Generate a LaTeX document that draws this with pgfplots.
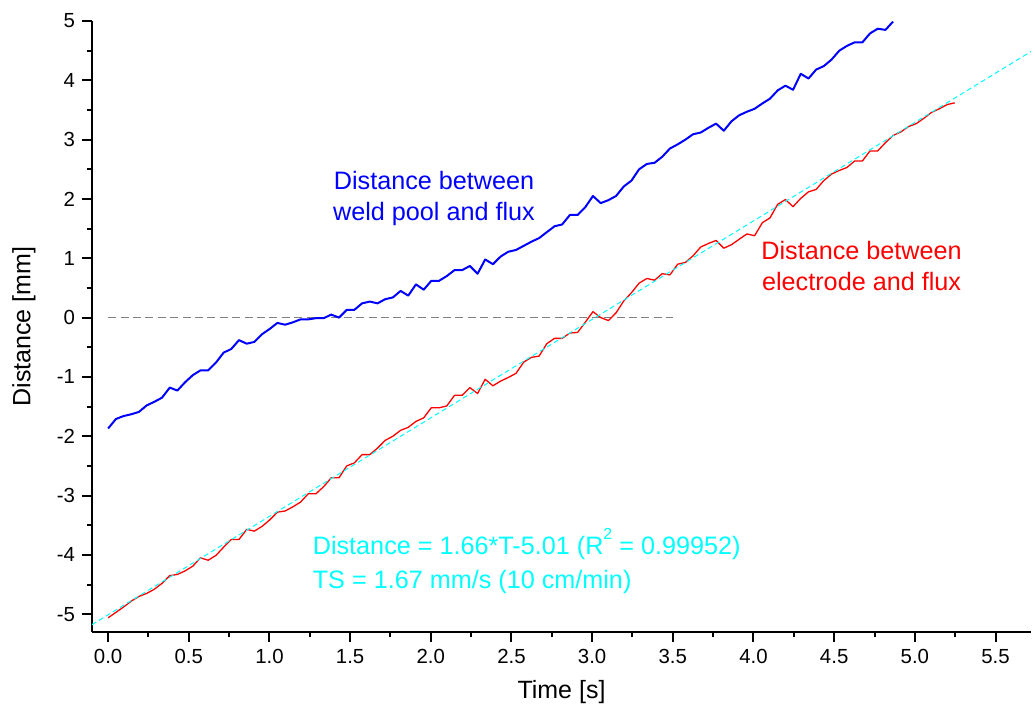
\documentclass[border=0pt]{standalone}
\usepackage{fontspec}
\setmainfont{Liberation Sans}
\usepackage{pgfplots}
\pgfplotsset{compat=1.18}
\definecolor{fitcyan}{RGB}{0,255,255}
\definecolor{zerogray}{RGB}{128,128,128}
\begin{document}
\begin{tikzpicture}
\begin{axis}[
  at={(0,0)}, anchor=south west, scale only axis,
  width=469.5pt, height=305.5pt,
  xmin=-0.1, xmax=5.72, ymin=-5.3, ymax=5,
  axis x line=bottom, axis y line=left,
  axis line style={-, line width=1pt},
  tick align=outside, major tick length=5pt, minor tick length=2.7pt,
  every tick/.style={black, line width=1pt},
  xtick={0,0.5,1,1.5,2,2.5,3,3.5,4,4.5,5,5.5}, minor x tick num=1,
  ytick={-5,-4,-3,-2,-1,0,1,2,3,4,5}, minor y tick num=1,
  ticklabel style={font=\fontsize{10.2}{12}\selectfont},
  /pgf/number format/assume math mode=true,
  xticklabel style={/pgf/number format/.cd, fixed, fixed zerofill, precision=1},
  xlabel={Time [s]}, ylabel={Distance [mm]},
  label style={font=\fontsize{12.5}{15}\selectfont},
  xlabel style={at={(axis description cs:0.5,-0.0982)}, anchor=center},
  ylabel style={at={(axis description cs:-0.0724,0.5)}, anchor=center},
]
\addplot[zerogray, line width=0.75pt, dash pattern=on 4pt off 2.2pt] coordinates {(0,0) (3.5,0)};
\addplot[blue, line width=1pt, line join=round] coordinates {
(0.000,-1.87) (0.048,-1.71) (0.095,-1.66) (0.143,-1.63) (0.191,-1.59) (0.239,-1.48) (0.286,-1.42) (0.334,-1.35) (0.382,-1.18) (0.429,-1.23)
(0.477,-1.09) (0.525,-0.97) (0.572,-0.89) (0.620,-0.89) (0.668,-0.76) (0.716,-0.59) (0.763,-0.53) (0.811,-0.38) (0.859,-0.44) (0.906,-0.41)
(0.954,-0.28) (1.002,-0.19) (1.049,-0.09) (1.097,-0.12) (1.145,-0.08) (1.193,-0.03) (1.240,-0.03) (1.288,-0.01) (1.336,-0.01) (1.383,0.05)
(1.431,0.00) (1.479,0.13) (1.526,0.13) (1.574,0.24) (1.622,0.27) (1.670,0.24) (1.717,0.31) (1.765,0.34) (1.813,0.45) (1.860,0.37)
(1.908,0.56) (1.956,0.47) (2.003,0.62) (2.051,0.62) (2.099,0.70) (2.147,0.80) (2.194,0.80) (2.242,0.87) (2.290,0.74) (2.337,0.98)
(2.385,0.90) (2.433,1.03) (2.480,1.11) (2.528,1.14) (2.576,1.21) (2.624,1.28) (2.671,1.34) (2.719,1.44) (2.767,1.54) (2.814,1.57)
(2.862,1.73) (2.910,1.73) (2.957,1.86) (3.005,2.05) (3.053,1.93) (3.101,1.98) (3.148,2.05) (3.196,2.21) (3.244,2.31) (3.291,2.50)
(3.339,2.59) (3.387,2.61) (3.434,2.71) (3.482,2.85) (3.530,2.92) (3.578,3.00) (3.625,3.09) (3.673,3.12) (3.721,3.20) (3.768,3.27)
(3.816,3.15) (3.864,3.31) (3.911,3.41) (3.959,3.47) (4.007,3.52) (4.055,3.61) (4.102,3.69) (4.150,3.83) (4.198,3.91) (4.245,3.84)
(4.293,4.11) (4.341,4.03) (4.388,4.18) (4.436,4.24) (4.484,4.35) (4.532,4.50) (4.579,4.58) (4.627,4.64) (4.675,4.64) (4.722,4.79)
(4.770,4.87) (4.818,4.85) (4.865,4.99)
};
\addplot[red, line width=0.65pt, line join=round] coordinates {
(0.000,-5.06) (0.048,-4.97) (0.095,-4.88) (0.143,-4.78) (0.191,-4.70) (0.239,-4.65) (0.286,-4.58) (0.334,-4.48) (0.382,-4.35) (0.429,-4.33)
(0.477,-4.27) (0.525,-4.19) (0.572,-4.05) (0.620,-4.09) (0.668,-4.01) (0.716,-3.87) (0.763,-3.74) (0.811,-3.74) (0.859,-3.57) (0.906,-3.60)
(0.954,-3.52) (1.002,-3.41) (1.049,-3.28) (1.097,-3.26) (1.145,-3.19) (1.193,-3.11) (1.240,-2.97) (1.288,-2.97) (1.336,-2.85) (1.383,-2.70)
(1.431,-2.70) (1.479,-2.50) (1.526,-2.45) (1.574,-2.31) (1.622,-2.31) (1.670,-2.20) (1.717,-2.07) (1.765,-2.00) (1.813,-1.90) (1.860,-1.85)
(1.908,-1.75) (1.956,-1.69) (2.003,-1.52) (2.051,-1.52) (2.099,-1.49) (2.147,-1.31) (2.194,-1.31) (2.242,-1.18) (2.290,-1.28) (2.337,-1.04)
(2.385,-1.15) (2.433,-1.07) (2.480,-1.01) (2.528,-0.94) (2.576,-0.75) (2.624,-0.67) (2.671,-0.65) (2.719,-0.44) (2.767,-0.35) (2.814,-0.35)
(2.862,-0.26) (2.910,-0.25) (2.957,-0.08) (3.005,0.10) (3.053,0.00) (3.101,-0.05) (3.148,0.08) (3.196,0.28) (3.244,0.42) (3.291,0.58)
(3.339,0.66) (3.387,0.63) (3.434,0.74) (3.482,0.72) (3.530,0.90) (3.578,0.93) (3.625,1.04) (3.673,1.19) (3.721,1.25) (3.768,1.30)
(3.816,1.17) (3.864,1.23) (3.911,1.32) (3.959,1.41) (4.007,1.38) (4.055,1.60) (4.102,1.68) (4.150,1.91) (4.198,1.99) (4.245,1.87)
(4.293,2.01) (4.341,2.12) (4.388,2.16) (4.436,2.31) (4.484,2.42) (4.532,2.48) (4.579,2.53) (4.627,2.64) (4.675,2.64) (4.722,2.81)
(4.770,2.81) (4.818,2.95) (4.865,3.07) (4.913,3.13) (4.961,3.22) (5.009,3.27) (5.056,3.36) (5.104,3.46) (5.152,3.52) (5.199,3.59)
(5.247,3.62)
};
\addplot[fitcyan, line width=0.5pt, dash pattern=on 2.5pt off 1.6pt] coordinates {(-0.1,-5.176) (5.72,4.485)};
\node[blue, align=center, font=\fontsize{12.6}{15.5}\selectfont] at (axis cs:2.02,2.01) {Distance between\\weld pool and flux};
\node[red, align=center, font=\fontsize{12.6}{15.5}\selectfont] at (axis cs:4.67,0.87) {Distance between\\electrode and flux};
\node[fitcyan, align=left, anchor=west, font=\fontsize{12.6}{17}\selectfont] at (axis cs:1.225,-4.175) {Distance = 1.66*T-5.01 (R\smash{\raisebox{0.62em}{\fontsize{8}{8}\selectfont 2}} = 0.99952)\\TS = 1.67 mm/s (10 cm/min)};
\end{axis}
\pgfresetboundingbox
\path[use as bounding box] (-46pt,-41.5pt) rectangle (471.5pt,316pt);
\end{tikzpicture}
\end{document}
